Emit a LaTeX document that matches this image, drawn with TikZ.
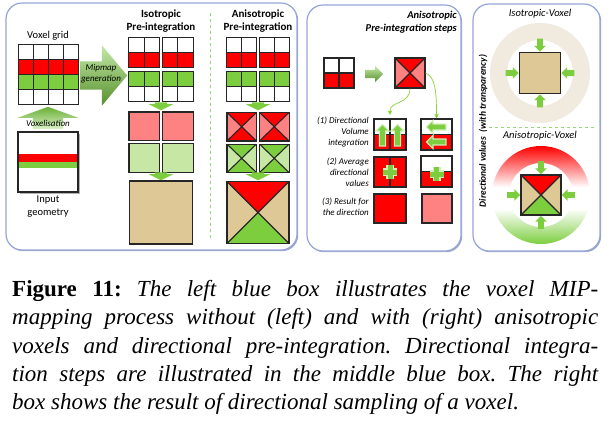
\documentclass[tikz,border=0pt]{standalone}
\usepackage{fontspec}
\setmainfont{Liberation Serif}
\newfontfamily\carlito{Carlito}
\usetikzlibrary{matrix,positioning,shapes.arrows,shadows,arrows.meta}

\definecolor{vred}{RGB}{255,0,0}
\definecolor{vpink}{RGB}{255,130,130}
\definecolor{vgreen}{RGB}{124,206,62}
\definecolor{vlgreen}{RGB}{198,232,164}
\definecolor{vtan}{RGB}{222,200,150}
\definecolor{ringtan}{RGB}{241,234,222}
\definecolor{panelblue}{RGB}{150,165,215}
\definecolor{dashgreen}{RGB}{150,215,120}

\pgfdeclareverticalshading{ringshade}{100bp}{color(0bp)=(vgreen); color(25bp)=(vgreen);
  color(43bp)=(white); color(54bp)=(white); color(75bp)=(vred); color(100bp)=(vred)}

\tikzset{
  panel/.style={draw=panelblue, line width=1.2pt, fill=white, rounded corners=16pt,
    drop shadow={shadow xshift=1.2pt, shadow yshift=-1.2pt, fill=panelblue!80!black, opacity=.7}},
  sep/.style={draw=dashgreen, line width=1pt, dash pattern=on 3pt off 3pt},
  vox/.style={draw=black!85, line width=1.1pt, inner sep=0pt},
  halfvox/.style={vox, fill=white, path picture={
      \fill[vred] (path picture bounding box.west) rectangle (path picture bounding box.south east);
      \draw[black!85, line width=1.1pt] (path picture bounding box.west) -- (path picture bounding box.east);}},
  xvox/.style n args={3}{vox, fill=#1, path picture={
      \fill[#2] (path picture bounding box.north west) -- (path picture bounding box.center)
        -- (path picture bounding box.north east) -- cycle;
      \fill[#3] (path picture bounding box.south west) -- (path picture bounding box.center)
        -- (path picture bounding box.south east) -- cycle;
      \draw[black!85, line width=1.1pt] (path picture bounding box.north west) -- (path picture bounding box.south east)
        (path picture bounding box.north east) -- (path picture bounding box.south west);}},
  voxmat/.style={matrix of nodes, nodes in empty cells, ampersand replacement=\&,
    column sep=-1.1pt, row sep=-1.1pt},
  boxshadow/.style={drop shadow={shadow xshift=1.5pt, shadow yshift=-1.5pt, fill=black!50, opacity=.6}},
  blockarrow/.style={single arrow, inner xsep=0pt, top color=vgreen!45!white, bottom color=vgreen!70!black},
  downarrow/.style={single arrow, fill=vgreen, inner xsep=6pt, inner ysep=0pt, shape border rotate=270,
    minimum height=8pt, single arrow head extend=6pt, single arrow tip angle=127},
  inarrow/.style={single arrow, fill=vgreen, inner sep=2.6pt, minimum height=13pt,
    single arrow head extend=3pt},
  glowarrow/.style={single arrow, fill=vgreen, inner sep=2.2pt,
    single arrow head extend=2.6pt, preaction={draw=vgreen!35, line width=2.5pt}},
  thinarrow/.style={draw=vgreen!85!lime, line width=.7pt, -{Triangle[length=4pt,width=4pt]}},
  plusmark/.style={draw=vgreen, line width=5pt, preaction={draw=vgreen!35, line width=8pt}},
  lbl/.style={font=\carlito\fontsize{10.5}{13}\selectfont, inner sep=0pt, align=center},
  ttl/.style={font=\carlito\bfseries\fontsize{11}{13}\selectfont, inner sep=0pt, align=center},
  note/.style={font=\carlito\itshape\fontsize{9}{11}\selectfont, inner sep=0pt, align=center},
}

\begin{document}
\begin{tikzpicture}[x=1pt,y=-1pt]
  \useasboundingbox (0,0) rectangle (610,424);

  % the three boxes
  \draw[panel] (6,3) rectangle (297,250);
  \draw[panel] (307,5) rectangle (461,251);
  \draw[panel] (473,4) rectangle (600,251);
  \draw[sep] (210,13) -- (210,240);
  \draw[sep] (489,127) -- (596,127);

  % voxel grid and input geometry
  \node[lbl, anchor=base] (gridlbl) at (48,38.5) {Voxel grid};
  \matrix (grid) [voxmat, nodes={vox, minimum size=14.8pt},
      row 2/.style={nodes={fill=vred}}, row 3/.style={nodes={fill=vgreen}}] at (48.5,74.5) {
    \& \& \& \\
    \& \& \& \\
    \& \& \& \\
    \& \& \& \\
  };
  \node[blockarrow, top color=vgreen!85!black, bottom color=vgreen!30!white, shape border rotate=90,
    anchor=tail, minimum height=22pt, inner xsep=15pt, inner ysep=0pt, single arrow head extend=15pt,
    single arrow tip angle=140] (voxarr) at (48,129) {};
  \node[note, anchor=base] (voxlbl) at (48,126) {Voxelisation};
  \node[vox, fill=white, minimum size=60pt, boxshadow, path picture={
      \fill[vred] ([yshift=8pt]path picture bounding box.west) rectangle (path picture bounding box.east);
      \fill[vgreen] (path picture bounding box.west) rectangle ([yshift=-6pt]path picture bounding box.east);}]
    (input) at (48,162) {};
  \node[lbl, anchor=north] (inputlbl) at (48,195.5) {Input\\geometry};

  \node[blockarrow, anchor=tail, minimum height=47pt, inner ysep=14pt, single arrow head extend=16pt,
    single arrow tip angle=100] (miparr) at (80,75.5) {};
  \node[note, anchor=north] (miplbl) at (101,64) {Mipmap\\generation};

  % isotropic column
  \node[ttl, anchor=north] (isottl) at (161,9.5) {Isotropic\\Pre-integration};
  \matrix (iso) [voxmat, nodes={vox, minimum width=15.3pt, minimum height=14.8pt},
      row 2/.style={nodes={fill=vred}}, row 3/.style={nodes={fill=vgreen}}] at (161,69.5) {
    \& \&[3.2pt] \& \\
    \& \&[3.2pt] \& \\[4pt]
    \& \&[3.2pt] \& \\
    \& \&[3.2pt] \& \\
  };
  \node[downarrow, anchor=tip] (isoarrA) at (161,110.5) {};
  \matrix (isob) [voxmat, column sep=2pt, row sep=2pt, nodes={vox, minimum width=30.5pt, minimum height=28.5pt},
      row 1/.style={nodes={fill=vpink}}, row 2/.style={nodes={fill=vlgreen}}] at (161,142) {
    \& \\
    \& \\
  };
  \node[downarrow, anchor=tip] (isoarrB) at (161,180.5) {};
  \node[vox, fill=vtan, minimum size=63pt] (isoc) at (161,212.5) {};

  % anisotropic column
  \node[ttl, anchor=north] (anisottl) at (258,9.5) {Anisotropic\\Pre-integration};
  \matrix (aniso) [voxmat, nodes={vox, minimum width=14.8pt, minimum height=14.8pt},
      row 2/.style={nodes={fill=vred}}, row 3/.style={nodes={fill=vgreen}}] at (258,69.5) {
    \& \&[3.2pt] \& \\
    \& \&[3.2pt] \& \\[4pt]
    \& \&[3.2pt] \& \\
    \& \&[3.2pt] \& \\
  };
  \node[downarrow, anchor=tip] (anisoarrA) at (258,110.5) {};
  \matrix (anisob) [voxmat, column sep=2pt, row sep=2pt, nodes={minimum width=29.5pt, minimum height=28.5pt},
      row 1/.style={nodes={xvox={vpink}{vred}{vred}}},
      row 2/.style={nodes={xvox={vlgreen}{vgreen}{vgreen}}}] at (258,142.5) {
    \& \\
    \& \\
  };
  \node[downarrow, anchor=tip] (anisoarrB) at (258,180.5) {};
  \node[xvox={vtan}{vred}{vgreen}, minimum size=62pt] (anisoc) at (258,212.5) {};

  % integration steps
  \node[ttl, font=\carlito\bfseries\itshape\fontsize{10.5}{13}\selectfont, align=right, anchor=north east]
    (stepttl) at (457,11) {Anisotropic\\Pre-integration steps};
  \matrix (s0) [voxmat, nodes={halfvox, minimum width=15pt, minimum height=30pt}] at (339,73) { \& \\ };
  \node[blockarrow, anchor=tail, minimum height=18pt, inner ysep=4pt, single arrow head extend=4pt]
    (s0arr) at (365,74) {};
  \node[xvox={vpink}{vred}{vred}, minimum size=30pt] (s0x) at (410,73) {};

  \node[note, align=right, anchor=north east] (s1lbl) at (369,117) {(1) Directional\\Volume\\integration};
  \matrix (s1a) [voxmat, nodes={halfvox, minimum width=16pt, minimum height=31pt}] at (390,134.5) { \& \\ };
  \node[halfvox, minimum width=31pt, minimum height=31pt] (s1b) at (436.5,134.5) {};
  \node[glowarrow, shape border rotate=90, anchor=tip, minimum height=20pt] (up1) at (382.5,125) {};
  \node[glowarrow, shape border rotate=90, anchor=tip, minimum height=20pt] (up2) at (397.5,125) {};
  \node[glowarrow, shape border rotate=180, anchor=tip, minimum height=18pt] (left1) at (427,127) {};
  \node[glowarrow, shape border rotate=180, anchor=tip, minimum height=18pt] (left2) at (427,142) {};
  \draw[thinarrow] (s0x.south) .. controls +(0,16) and +(0,-14) .. (s1a.north);
  \draw[thinarrow] (s0x.east) .. controls +(10,4) and +(0,-26) .. (s1b.north);

  \node[note, align=right, anchor=north east] (s2lbl) at (369,157.5) {(2) Average\\directional\\values};
  \matrix (s2a) [voxmat, nodes={vox, fill=vred, minimum width=16pt, minimum height=30pt}] at (390,172) { \& \\ };
  \node[halfvox, minimum width=31pt, minimum height=31pt] (s2b) at (436.5,171.5) {};
  \draw[plusmark] (s2a.center) +(-7,0) -- +(7,0) +(0,-7) -- +(0,7);
  \draw[plusmark] ([yshift=-2.5pt]s2b.center) +(-7,0) -- +(7,0) +(0,-7) -- +(0,7);

  \node[note, align=right, anchor=north east] (s3lbl) at (369,197.5) {(3) Result for\\the direction};
  \node[vox, fill=vred, minimum width=32pt, minimum height=29pt] (s3a) at (390,208.5) {};
  \node[vox, fill=vpink, minimum width=30pt, minimum height=29pt] (s3b) at (437,208.5) {};

  % sampled voxels
  \node[note, font=\carlito\itshape\fontsize{10.5}{13}\selectfont, anchor=base] (isovoxlbl) at (540,16.5) {Isotropic-Voxel};
  \coordinate (isoring) at (540,73);
  \fill[ringtan, even odd rule] (isoring) circle[radius=50pt] (isoring) circle[radius=33pt];
  \node[vox, fill=vtan, minimum size=41pt] (isovox) at (isoring) {};
  \node[inarrow, shape border rotate=270, anchor=tip] (isoN) at (isovox.north) {};
  \node[inarrow, shape border rotate=90, anchor=tip] (isoS) at (isovox.south) {};
  \node[inarrow, shape border rotate=0, anchor=tip] (isoW) at (isovox.west) {};
  \node[inarrow, shape border rotate=180, anchor=tip] (isoE) at (isovox.east) {};

  \node[note, font=\carlito\itshape\fontsize{10.5}{13}\selectfont, anchor=base] (anisovoxlbl) at (540,138.5) {Anisotropic-Voxel};
  \coordinate (anisoring) at (541,195);
  \shade[even odd rule, shading=ringshade]
    (anisoring) circle[radius=49pt] (anisoring) circle[radius=32pt];
  \node[xvox={vtan}{vred}{vgreen}, minimum size=40pt] (anisovox) at (anisoring) {};
  \node[inarrow, shape border rotate=270, anchor=tip] (anisoN) at (anisovox.north) {};
  \node[inarrow, shape border rotate=90, anchor=tip] (anisoS) at (anisovox.south) {};
  \node[inarrow, shape border rotate=0, anchor=tip] (anisoW) at (anisovox.west) {};
  \node[inarrow, shape border rotate=180, anchor=tip] (anisoE) at (anisovox.east) {};

  \node[note, font=\carlito\bfseries\itshape\fontsize{9.5}{11}\selectfont, rotate=90] (dirlbl) at (483,131)
    {Directional values\ \ (with transparency)};

  % caption
  \node[anchor=north west, text width=586pt, align=justify, inner sep=0pt,
    font=\fontsize{23}{28.3}\selectfont\frenchspacing] (caption) at (12,280) {\textbf{Figure 11:} \textit{The left blue box
    illustrates the voxel MIP-\linebreak mapping process without (left) and with (right) anisotropic\linebreak
    voxels and directional pre-integration. Directional integra-\linebreak tion steps are illustrated in the
    middle blue box. The right\linebreak box shows the result of directional sampling of a voxel.}};
\end{tikzpicture}
\end{document}
